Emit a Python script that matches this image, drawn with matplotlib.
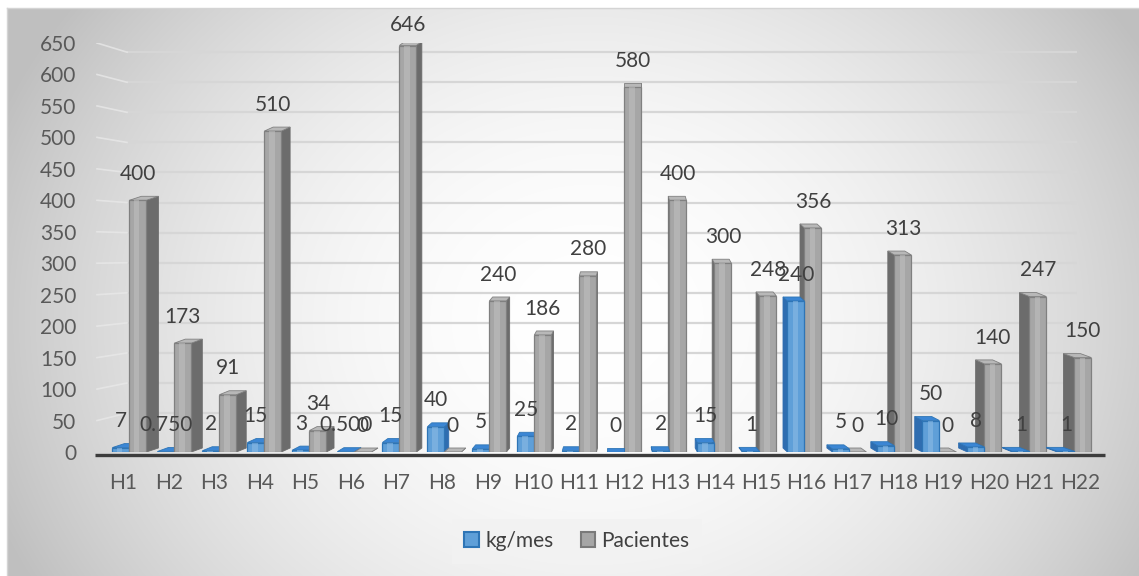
import matplotlib
import numpy as np

matplotlib.use("Agg")
import matplotlib.pyplot as plt  # noqa: E402
from matplotlib.patches import Patch, Polygon, Rectangle  # noqa: E402
from matplotlib.transforms import offset_copy  # noqa: E402

plt.rcParams["font.family"] = ["Lato", "DejaVu Sans"]

hospitales = ["H1", "H2", "H3", "H4", "H5", "H6", "H7", "H8", "H9", "H10", "H11",
              "H12", "H13", "H14", "H15", "H16", "H17", "H18", "H19", "H20", "H21", "H22"]
kg_mes = [7, 0.75, 2, 15, 3, 0.5, 15, 40, 5, 25, 2, 0, 2, 15, 1, 240, 5, 10, 50, 8, 1, 1]
pacientes = [400, 173, 91, 510, 34, 0, 646, 0, 240, 186, 280, 580, 400, 300, 248,
             356, 0, 313, 0, 140, 247, 150]
yticks = list(range(0, 651, 50))

W, H = 1139, 576
TXT = "#404040"
TICK = "#595959"
FS = 15

BLUE = dict(face="#5f9fd8", stripe="#8fbde6", side="#2f6db0", top="#3b86d4", edge="#2e75b6")
GRAY = dict(face="#a6a6a6", stripe="#c0c0c0", side="#6c6c6c", top="#b8b8b8", edge="#808080")


def fmt(v):
    return f"{v:.0f}" if float(v).is_integer() else f"{v:.3f}"


fig = plt.figure(figsize=(W / 100, H / 100), dpi=100)

# chart-area background: soft radial gradient, white in the middle
bg = fig.add_axes([0, 0, 1, 1], zorder=-10)
yy, xx = np.mgrid[0:H, 0:W]
r2 = ((xx - 590) / 566.0) ** 2 + ((yy - 320) / 480.0) ** 2
shade = 255 - np.clip(50 * r2, 0, 64)
shade[yy < 8] = 255
shade[xx < 7] = 255
img = np.dstack([shade] * 3) / 255.0
bg.imshow(img, extent=(0, W, H, 0), aspect="auto", interpolation="bilinear")
bg.plot([7, W], [8, 8], color="#d4d4d4", lw=1)
bg.plot([7, 7], [8, H], color="#d4d4d4", lw=1)
bg.set_xlim(0, W)
bg.set_ylim(H, 0)
bg.axis("off")

# plot area
x_left, x_right, y_top, y_bot = 95, 1105, 43, 452
ax = fig.add_axes([x_left / W, (H - y_bot) / H, (x_right - x_left) / W, (y_bot - y_top) / H])
ax.set_facecolor("none")
xmin, xmax = -0.62, 21.55
ax.set_xlim(xmin, xmax)
ax.set_ylim(0, 650)
for s in ax.spines.values():
    s.set_visible(False)

px_x = (x_right - x_left) / (xmax - xmin)  # pixels per category unit
px_y = (y_bot - y_top) / 650.0  # pixels per value unit


def xdata(px):
    return xmin + (px - x_left) / px_x


# back-wall gridlines (slightly compressed by perspective) and faint side-wall lead-ins
for v in yticks[1:]:
    g = 0.956 * v + 14
    ax.plot([xdata(127), xdata(1077)], [g, g], color="#d6d6d6", lw=1.6, zorder=1,
            solid_capstyle="butt")
    ax.plot([xdata(97), xdata(127)], [v, g], color="#e8e8e8", lw=1.2, zorder=1, alpha=0.8)

# floor edge
floor_tr = offset_copy(ax.transData, fig=fig, x=0, y=-3, units="dots")
ax.plot([xmin, xmax], [0, 0], color="#3c3c3c", lw=2.4, transform=floor_tr, zorder=2,
        clip_on=False, solid_capstyle="butt")

bar_w = 17 / px_x
dy = 4 / px_y
mid = 11


def draw_box(x0, v, dx, st, z):
    x1 = x0 + bar_w
    xs = x1 if dx >= 0 else x0
    ax.add_patch(Polygon([(xs, 0), (xs + dx, dy), (xs + dx, v + dy), (xs, v)], closed=True,
                         facecolor=st["side"], edgecolor=st["side"], lw=0.6, zorder=z))
    ax.add_patch(Polygon([(x0, v), (x0 + dx, v + dy), (x1 + dx, v + dy), (x1, v)], closed=True,
                         facecolor=st["top"], edgecolor=st["edge"], lw=0.6, zorder=z))
    ax.bar(x0, v, width=bar_w, align="edge", color=st["face"], edgecolor=st["edge"],
           linewidth=0.9, zorder=z)
    if v > 0:
        ax.add_patch(Rectangle((x0 + bar_w * 0.3, 0), bar_w * 0.3, v, facecolor=st["stripe"],
                               edgecolor="none", alpha=0.55, zorder=z))


for i, (kg, pac) in enumerate(zip(kg_mes, pacientes)):
    shift = -0.55 * (i - mid) / px_x
    dx = -1.1 * (i - mid) / px_x
    xb = i + shift - bar_w
    xg = i + shift
    order = [(xb, kg, BLUE), (xg, pac, GRAY)]
    if i >= mid:
        order = order[::-1]
    for k, (x0, v, st) in enumerate(order):
        draw_box(x0, v, dx, st, 3 + k)
    for x0, v in ((xb, kg), (xg, pac)):
        lift = 15 if v > 620 else 19
        ax.annotate(fmt(v), (x0 + bar_w / 2, v), xytext=(0, lift), textcoords="offset points",
                    ha="center", va="center", fontsize=FS, color=TXT, zorder=10,
                    annotation_clip=False)

ax.set_yticks(yticks)
ax.set_yticklabels([str(t) for t in yticks])
ax.set_xticks(range(len(hospitales)))
ax.set_xticklabels(hospitales)
ax.tick_params(axis="y", length=0, pad=13.5, labelsize=FS, labelcolor=TICK)
ax.tick_params(axis="x", length=0, pad=15, labelsize=FS, labelcolor=TICK)

handles = [Patch(facecolor=BLUE["face"], edgecolor=BLUE["edge"], linewidth=1.5, label="kg/mes"),
           Patch(facecolor=GRAY["face"], edgecolor="#7a7a7a", linewidth=1.5, label="Pacientes")]
leg = fig.legend(handles=handles, loc="center", bbox_to_anchor=(577 / W, 1 - 541 / H), ncol=2,
                 frameon=True, fontsize=FS, handlelength=0.7, handleheight=0.7,
                 handletextpad=0.3, columnspacing=1.3, borderpad=0.6, fancybox=False)
leg.get_frame().set_facecolor("#f2f2f2")
leg.get_frame().set_edgecolor("none")
for t in leg.get_texts():
    t.set_color(TXT)

fig.savefig("out.png", dpi=100)
